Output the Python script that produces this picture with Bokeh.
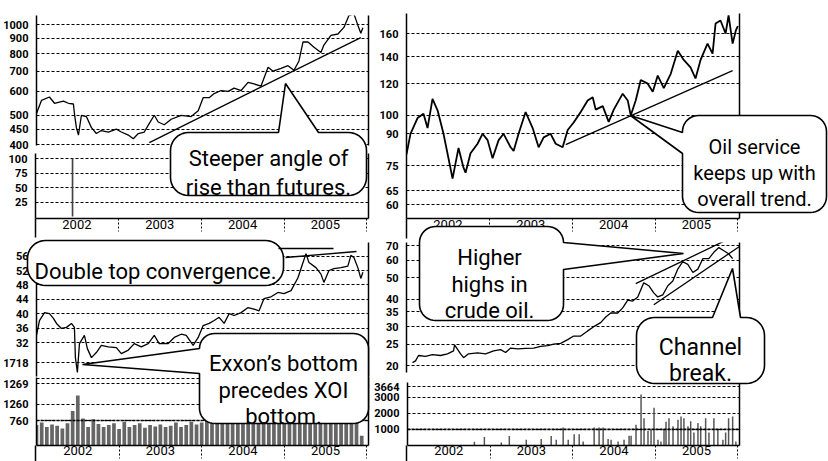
import math
from bokeh.plotting import figure
from bokeh.models import Range1d, FixedTicker, PrintfTickFormatter, LinearAxis, LogAxis, GridBox, Span
from bokeh.core.properties import value
from bokeh.embed import file_html
from bokeh.resources import INLINE

FONT = "Roboto"
X0, X1 = 2002.0, 2006.02

# ---------------- data (decimal years) ----------------
tl_t = [2002.000, 2002.060, 2002.157, 2002.218, 2002.326, 2002.387, 2002.447, 2002.459, 2002.483, 2002.508,
        2002.544, 2002.604, 2002.665, 2002.725, 2002.785, 2002.870, 2002.967, 2003.027, 2003.112, 2003.172,
        2003.233, 2003.305, 2003.366, 2003.426, 2003.474, 2003.547, 2003.631, 2003.752, 2003.873, 2003.958,
        2004.018, 2004.091, 2004.151, 2004.236, 2004.320, 2004.393, 2004.477, 2004.562, 2004.634, 2004.719,
        2004.804, 2004.864, 2004.961, 2005.045, 2005.118, 2005.178, 2005.227, 2005.287, 2005.360, 2005.444,
        2005.480, 2005.565, 2005.650, 2005.722, 2005.782, 2005.843, 2005.891, 2005.927, 2005.952]
tl_v = [507, 560, 575, 548, 557, 548, 545, 507, 455, 430,
        500, 495, 455, 435, 445, 440, 450, 440, 430, 418,
        435, 440, 470, 500, 475, 465, 485, 500, 495, 518,
        572, 572, 590, 604, 600, 615, 604, 643, 635, 625,
        722, 700, 715, 730, 705, 757, 875, 875, 840, 808,
        855, 920, 930, 978, 1070, 1085, 995, 935, 975]
tl_trend_t = [2003.366, 2005.927]
tl_trend_v = [406, 905]
tl_sub_t = [2002.447]
tl_sub_v = [100]

tr_t = [2002.000, 2002.048, 2002.133, 2002.205, 2002.254, 2002.314, 2002.375, 2002.447, 2002.508, 2002.556,
        2002.628, 2002.689, 2002.713, 2002.773, 2002.858, 2002.918, 2002.979, 2003.039, 2003.112, 2003.172,
        2003.257, 2003.293, 2003.353, 2003.438, 2003.523, 2003.595, 2003.656, 2003.740, 2003.801, 2003.885,
        2003.946, 2004.018, 2004.103, 2004.187, 2004.248, 2004.284, 2004.369, 2004.441, 2004.502, 2004.610,
        2004.671, 2004.707, 2004.767, 2004.828, 2004.912, 2004.973, 2005.033, 2005.106, 2005.190, 2005.275,
        2005.347, 2005.429, 2005.489, 2005.550, 2005.634, 2005.695, 2005.731, 2005.791, 2005.852, 2005.888,
        2005.937, 2005.976, 2006.000]
tr_v = [80, 90, 98.5, 101, 93, 110, 103, 90, 78, 69.6,
        83, 74, 72, 80.5, 85, 90, 86.8, 78.2, 86.8, 90,
        83.3, 81.6, 90, 102, 93, 83.3, 88.2, 90, 85, 83.3,
        92, 96, 102, 109, 111, 103.4, 105.5, 96.4, 103.4, 113.3,
        109, 100, 109, 122.5, 120, 114.5, 125.7, 117, 127, 145,
        137.5, 131.8, 123.6, 137.5, 151, 142.5, 169.4, 172.4, 160, 177.5,
        151, 162.8, 167]
tr_trend_t = [2003.922, 2005.937]
tr_trend_v = [84.6, 129.3]

bl_t = [2002.000, 2002.036, 2002.097, 2002.157, 2002.205, 2002.242, 2002.302, 2002.363, 2002.423, 2002.459,
        2002.471, 2002.495, 2002.520, 2002.580, 2002.616, 2002.665, 2002.725, 2002.785, 2002.870, 2002.967,
        2003.027, 2003.112, 2003.184, 2003.269, 2003.353, 2003.426, 2003.486, 2003.595, 2003.668, 2003.752,
        2003.813, 2003.897, 2003.958, 2004.018, 2004.091, 2004.151, 2004.211, 2004.272, 2004.332, 2004.393,
        2004.477, 2004.562, 2004.634, 2004.695, 2004.755, 2004.840, 2004.924, 2004.997, 2005.082, 2005.166,
        2005.227, 2005.263, 2005.299, 2005.384, 2005.444, 2005.480, 2005.541, 2005.601, 2005.686, 2005.770,
        2005.807, 2005.843, 2005.891, 2005.927, 2005.952]
bl_v = [34.0, 38.1, 40.3, 40.0, 38.7, 37.3, 35.9, 36.2, 37.3, 36.2,
        27.8, 23.7, 31.7, 34.0, 30.3, 27.8, 29.2, 31.2, 30.8, 30.6,
        28.9, 29.9, 31.7, 30.8, 31.7, 34.0, 31.7, 31.7, 33.4, 34.3,
        34.0, 31.2, 33.4, 36.7, 37.3, 38.1, 39.0, 37.3, 40.0, 39.5,
        40.3, 41.7, 41.3, 40.8, 44.2, 44.7, 45.9, 45.6, 46.4, 50.0,
        54.2, 56.7, 54.2, 52.8, 51.0, 48.7, 52.0, 52.5, 52.8, 53.2,
        56.2, 55.6, 52.8, 49.8, 51.5]
bl_vol_t = [2002.000, 2002.063, 2002.125, 2002.188, 2002.250, 2002.313, 2002.375, 2002.438,
            2002.500, 2002.563, 2002.625, 2002.688, 2002.750, 2002.813, 2002.875, 2002.938,
            2003.000, 2003.063, 2003.125, 2003.188, 2003.250, 2003.313, 2003.375, 2003.438,
            2003.500, 2003.563, 2003.625, 2003.688, 2003.750, 2003.813, 2003.875, 2003.938,
            2004.000, 2004.063, 2004.125, 2004.188, 2004.250, 2004.313, 2004.375, 2004.438,
            2004.500, 2004.563, 2004.625, 2004.688, 2004.750, 2004.813, 2004.875, 2004.938,
            2005.000, 2005.063, 2005.125, 2005.188, 2005.250, 2005.313, 2005.375, 2005.438,
            2005.500, 2005.563, 2005.625, 2005.688, 2005.750, 2005.813, 2005.875, 2005.938]
bl_vol = [620, 700, 560, 640, 600, 520, 680, 1050, 1520, 820,
          560, 800, 650, 560, 620, 680, 500, 720, 560, 620,
          680, 540, 620, 580, 640, 560, 600, 700, 560, 620,
          720, 640, 700, 760, 680, 820, 720, 780, 700, 860,
          740, 800, 700, 760, 820, 720, 780, 840, 700, 760,
          900, 820, 960, 780, 740, 860, 700, 800, 760, 880,
          720, 820, 760, 300]

br_t = [2002.073, 2002.109, 2002.145, 2002.230, 2002.314, 2002.411, 2002.495, 2002.568, 2002.580, 2002.653,
        2002.689, 2002.749, 2002.858, 2002.955, 2003.051, 2003.136, 2003.196, 2003.257, 2003.341, 2003.438,
        2003.535, 2003.619, 2003.704, 2003.776, 2003.861, 2003.946, 2004.018, 2004.103, 2004.187, 2004.260,
        2004.344, 2004.405, 2004.465, 2004.550, 2004.610, 2004.671, 2004.731, 2004.792, 2004.864, 2004.925,
        2004.985, 2005.033, 2005.094, 2005.155, 2005.215, 2005.275, 2005.335, 2005.396, 2005.457, 2005.517,
        2005.577, 2005.650, 2005.710, 2005.771, 2005.831, 2005.888, 2005.937]
br_v = [20.6, 21.0, 22.2, 22.0, 22.4, 22.2, 22.6, 23.3, 24.8, 22.6,
        21.7, 22.6, 22.8, 22.6, 23.3, 23.6, 22.9, 24.0, 23.8, 23.9,
        24.0, 24.4, 24.6, 25.0, 25.2, 26.2, 27.2, 27.2, 28.7, 30.0,
        31.3, 33.2, 34.6, 34.6, 36.5, 39.6, 39.2, 40.9, 47.4, 46.0,
        42.7, 40.9, 41.8, 46.0, 48.3, 54.7, 59.1, 57.5, 52.8, 54.7,
        61.0, 61.0, 65.2, 68.5, 66.3, 64.2, 61.0]
br_upper_t = [2004.767, 2005.951]
br_upper_v = [47.0, 76.9]
br_lower_t = [2004.985, 2006.015]
br_lower_v = [37.7, 69.1]
br_vol_t = [2002.810, 2002.931, 2003.136, 2003.233, 2003.438, 2003.619, 2003.740, 2003.801, 2003.885, 2003.946,
            2004.018, 2004.079, 2004.127, 2004.260, 2004.320, 2004.369, 2004.429, 2004.465, 2004.550, 2004.622,
            2004.683, 2004.707, 2004.767, 2004.828, 2004.864, 2004.912, 2004.949, 2004.985, 2005.033, 2005.069,
            2005.106, 2005.130, 2005.166, 2005.215, 2005.275, 2005.312, 2005.347, 2005.396, 2005.429, 2005.468,
            2005.517, 2005.550, 2005.610, 2005.650, 2005.710, 2005.758, 2005.819, 2005.852, 2005.888, 2005.937,
            2005.976]
br_vol = [235, 530, 180, 590, 350, 400, 590, 350, 1120, 350,
          700, 700, 250, 1120, 1120, 1120, 400, 350, 250, 350,
          610, 610, 1290, 3170, 1700, 900, 1000, 2350, 350, 250,
          1000, 1470, 1700, 1200, 1600, 1800, 1700, 1200, 1500, 800,
          1400, 1200, 1700, 800, 1700, 1000, 350, 800, 1700, 1800,
          250]

year_ticks = [2002.5, 2003.5, 2004.5, 2005.5]
year_bounds = [2003, 2004, 2005, 2006]

# ---------------- helpers ----------------
def lin_range(v1, y1, v2, y2, ytop, ybot):
    k = (v2 - v1) / (y2 - y1)
    return v1 + (ybot - y1) * k, v1 + (ytop - y1) * k


def log_range(v1, y1, v2, y2, ytop, ybot):
    a, b = lin_range(math.log10(v1), y1, math.log10(v2), y2, ytop, ybot)
    return 10 ** a, 10 ** b


def no_align(p):
    try:
        p.frame_align = False
    except AttributeError:
        pass


def panel(w, h, yr, log, mb, yticks, grid_ticks=None, overrides=None, xaxis=None):
    left, right, top, bottom = mb
    p = figure(width=w, height=h, x_range=Range1d(X0, X1), y_range=Range1d(*yr),
               y_axis_type="log" if log else "linear",
               x_axis_location="below" if xaxis else None,
               toolbar_location=None, output_backend="svg",
               min_border_left=left, min_border_right=right,
               min_border_top=top, min_border_bottom=bottom)
    no_align(p)
    p.outline_line_color = None
    p.background_fill_color = None
    p.border_fill_color = None
    p.xgrid.visible = False
    g = p.ygrid[0]
    g.ticker = FixedTicker(ticks=grid_ticks if grid_ticks is not None else yticks)
    g.grid_line_color = "black"
    g.grid_line_dash = "3 2"
    g.grid_line_width = 1
    ya = p.yaxis[0]
    ya.ticker = FixedTicker(ticks=yticks)
    ya.formatter = PrintfTickFormatter(format="%d")
    if overrides:
        ya.major_label_overrides = overrides
    ya.major_tick_line_color = None
    ya.minor_tick_line_color = None
    ya.axis_line_width = 1.5
    ya.major_label_standoff = 2
    ya.major_label_text_font = FONT
    ya.major_label_text_font_size = "11px"
    ya.major_label_text_font_style = "bold"
    ya.major_label_text_color = "black"
    cls = LogAxis if log else LinearAxis
    rb = cls(ticker=FixedTicker(ticks=[]), major_tick_line_color=None, minor_tick_line_color=None,
             major_label_text_font_size="0px", axis_line_width=1.5)
    p.add_layout(rb, "right")
    if xaxis:
        size, standoff = xaxis
        xa = p.xaxis[0]
        xa.ticker = FixedTicker(ticks=year_ticks, minor_ticks=year_bounds)
        xa.formatter = PrintfTickFormatter(format="%d")
        xa.major_tick_line_color = None
        xa.major_tick_out = 0
        xa.major_tick_in = 0
        xa.minor_tick_line_color = "black"
        xa.minor_tick_line_dash = "2 2"
        xa.minor_tick_out = 0
        xa.minor_tick_in = -13
        xa.axis_line_width = 1.5
        xa.major_label_standoff = standoff
        xa.major_label_text_font = FONT
        xa.major_label_text_font_size = size
        xa.major_label_text_color = "black"
    return p


# ---------------- top-left: index price + sub panel ----------------
tlp = panel(371, 150, log_range(400, 144, 1000, 24, 15, 145), True, (35, 3, 15, 5),
            [400, 450, 500, 600, 700, 800, 900, 1000])
tlp.line(tl_t, tl_v, line_color="black", line_width=1.3)
tlp.line(tl_trend_t, tl_trend_v, line_color="black", line_width=1.3)

tls = panel(371, 88, lin_range(100, 158, 0, 216, 153, 218), False, (35, 3, 3, 20),
            [25, 50, 75, 100], xaxis=("13px", 1))
tls.vbar(x=tl_sub_t, top=tl_sub_v, bottom=0, width=0.02, fill_color="#444", line_color=None)

# ---------------- top-right: oil service ----------------
tr = panel(457, 238, log_range(160, 33, 60, 204, 13, 218), True, (35, 89, 13, 20),
           [60, 65, 75, 90, 100, 120, 140, 160], xaxis=("13px", 1))
tr.line(tr_t, tr_v, line_color="black", line_width=1.8)
tr.line(tr_trend_t, tr_trend_v, line_color="black", line_width=1.3)

# ---------------- bottom-left: Exxon price + volume ----------------
blp = panel(371, 139, lin_range(32, 342, 48, 284.4, 242, 376), False, (35, 3, 4, 1),
            [26.4, 32, 36, 40, 44, 48, 52, 56], overrides={26.4: "1718"})
blp.line(bl_t, bl_v, line_color="black", line_width=1.3)

blv = panel(371, 84, lin_range(0, 445, 760, 420, 377, 445), False, (35, 3, 0, 16),
            [760, 1260, 1885], grid_ticks=[760, 1260, 1885, 2037], overrides={1885: "1269"},
            xaxis=("13px", 0))
blv.vbar(x=bl_vol_t, top=bl_vol, bottom=0, width=0.045, fill_color="#666", line_color=None)
blv.add_layout(Span(location=760, dimension="width", line_color="black", line_width=1.5, line_dash="3 1"))

# ---------------- bottom-right: crude oil + volume ----------------
brp = panel(457, 139, log_range(70, 245, 20, 365, 242, 372), True, (35, 89, 4, 5),
            [20, 25, 30, 35, 40, 50, 60, 70])
brp.line(br_t, br_v, line_color="black", line_width=1.3)
brp.line(br_upper_t, br_upper_v, line_color="black", line_width=1.3)
brp.line(br_lower_t, br_lower_v, line_color="black", line_width=1.3)

brv = panel(457, 84, lin_range(0, 445, 3664, 386, 382, 445), False, (35, 89, 5, 16),
            [1000, 2000, 3000, 3664], xaxis=("13px", 0))
brv.vbar(x=br_vol_t, top=br_vol, bottom=0, width=0.018, fill_color="#555", line_color=None)
brv.add_layout(Span(location=1000, dimension="width", line_color="black", line_width=1.6, line_dash="3 1"))

# ---------------- overlay with callouts (page pixel coordinates) ----------------
ov = figure(width=828, height=461, x_range=Range1d(0, 828), y_range=Range1d(461, 0),
            x_axis_location=None, y_axis_location=None, toolbar_location=None,
            output_backend="svg", min_border=0)
no_align(ov)
ov.xgrid.visible = False
ov.ygrid.visible = False
ov.outline_line_color = None
ov.background_fill_color = None
ov.border_fill_color = None


def callout(x0, x1, y0, y1, r, wedge=None):
    pts = []

    def arc(cx, cy, a0, a1, n=10):
        for i in range(n + 1):
            t = math.radians(a0 + (a1 - a0) * i / n)
            pts.append((cx + r * math.cos(t), cy + r * math.sin(t)))

    side = wedge[0] if wedge else None
    arc(x0 + r, y0 + r, 180, 270)
    if side == "top":
        _, a, b, tx, ty = wedge
        pts.extend([(a, y0), (tx, ty), (b, y0)])
    arc(x1 - r, y0 + r, 270, 360)
    if side == "right":
        _, a, b, tx, ty = wedge
        pts.extend([(x1, a), (tx, ty), (x1, b)])
    arc(x1 - r, y1 - r, 0, 90)
    arc(x0 + r, y1 - r, 90, 180)
    if side == "left":
        _, a, b, tx, ty = wedge
        pts.extend([(x0, b), (tx, ty), (x0, a)])
    return [q[0] for q in pts], [q[1] for q in pts]


# axis extensions below the year bands
ov.segment(x0=[35, 406, 35, 406], y0=[218, 218, 445, 445], x1=[35, 406, 35, 406], y1=[237, 238, 461, 461],
           line_color="black", line_width=1.5)

boxes = [
    (170, 366, 132, 195, 18, ("top", 278, 318, 285, 83)),
    (682, 826, 115, 212, 16, ("left", 132, 153, 630, 115)),
    (27, 283, 240, 285, 18, None),
    (199, 368, 333, 423, 15, ("left", 348, 373, 82, 364)),
    (419, 563, 226, 320, 16, ("right", 242, 269, 683, 253)),
    (636, 764, 317, 383, 18, ("top", 712, 740, 732, 268)),
]
for b in boxes:
    xs, ys = callout(*b)
    ov.patch(xs, ys, fill_color="white", line_color="black", line_width=1.6)

ov.line([278, 333], [248, 248], line_color="black", line_width=1.3)
ov.line([285, 356], [257, 251], line_color="black", line_width=1.3)

labels = [
    (268, [158, 187], ["Steeper angle of", "rise than futures."], "22px"),
    (754, [146, 172, 198], ["Oil service", "keeps up with", "overall trend."], "20px"),
    (155, [271], ["Double top convergence."], "22px"),
    (283, [363, 390, 416], ["Exxon\u2019s bottom", "precedes XOI", "bottom."], "22px"),
    (489, [257, 284, 310], ["Higher", "highs in", "crude oil."], "22px"),
    (700, [347, 373], ["Channel", "break."], "23px"),
]
for cx, ys, texts, fs in labels:
    ov.text(x=[cx] * len(ys), y=ys, text=texts, text_align="center", text_baseline="alphabetic",
            text_font=value(FONT), text_font_size=fs, text_color="black")

grid = GridBox(children=[(tlp, 0, 0), (tls, 1, 0), (blp, 2, 0), (blv, 3, 0),
                         (tr, 0, 1, 2, 1), (brp, 2, 1), (brv, 3, 1), (ov, 0, 0, 4, 2)],
               rows=["150px", "88px", "139px", "84px"], cols=["371px", "457px"])

open("out.html", "w").write(file_html(grid, INLINE))
